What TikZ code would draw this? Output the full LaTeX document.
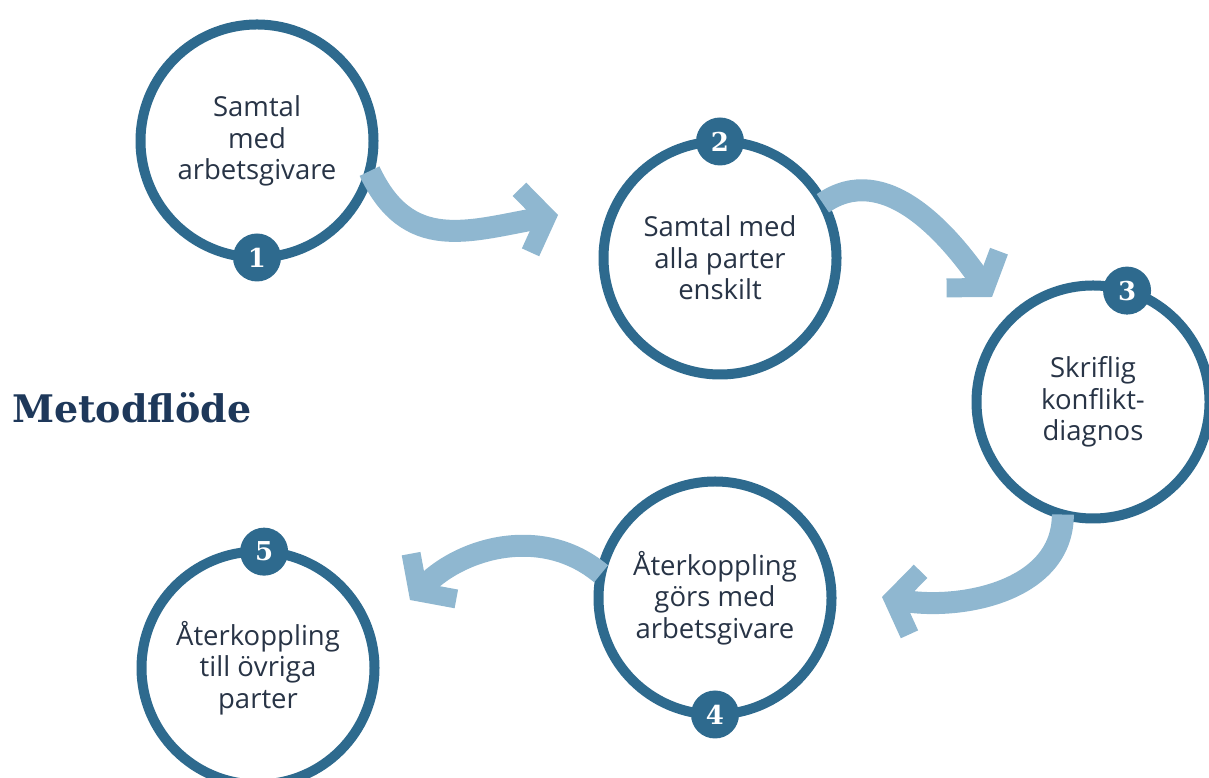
\documentclass[tikz,border=0pt]{standalone}
\usepackage{fontspec}
\setmainfont{Open Sans}
\newfontfamily\slabfont{DejaVu Serif}
\usetikzlibrary{arrows.meta,positioning}
\definecolor{ringblue}{RGB}{46,106,142}
\definecolor{flowblue}{RGB}{143,183,208}
\definecolor{textgrey}{RGB}{40,52,70}
\definecolor{titleblue}{RGB}{30,56,90}

\begin{document}
\begin{tikzpicture}[x=1pt,y=1pt,
  stepcircle/.style={draw=ringblue,circle,line width=10pt,minimum size=233pt,
    inner sep=0pt,outer sep=0pt,text=textgrey,align=center,
    font=\fontsize{27.5}{31.5}\selectfont},
  badge/.style={circle,fill=ringblue,minimum size=48pt,inner sep=0pt,
    text=white,font=\slabfont\bfseries\fontsize{26}{26}\selectfont},
  flow/.style={flowblue,line width=22pt,
    -{Straight Barb[length=22pt,width=64pt,line width=19pt]}}
]
\useasboundingbox (0,0) rectangle (1209,778);
\clip (0,0) rectangle (1209,778);

% the title
\node[anchor=west,inner sep=0pt,text=titleblue,
  font=\slabfont\bfseries\fontsize{38}{38}\selectfont] (title) at (12,370) {Metodflöde};

% the arrows
\coordinate (h1) at (558,563);
\coordinate (h2) at (992,481);
\coordinate (h3) at (882,181);
\coordinate (h4) at (410,178);

% the steps
\node[stepcircle] (c1) at (257,637) {Samtal\\med\\arbetsgivare};
\node[stepcircle] (c2) at (720,520) {Samtal med\\alla parter\\enskilt};
\node[stepcircle] (c3) at (1093,376) {Skriflig\\konflikt-\\diagnos};
\node[stepcircle] (c4) at (715,180) {Återkoppling\\görs med\\arbetsgivare};
\node[stepcircle] (c5) at (258,110) {Återkoppling\\till övriga\\parter};

% the numbers
\foreach \n/\a in {1/270,2/90,3/73,4/270,5/87}
  \node[badge] (b\n) at (c\n.\a) {\n};

% the flow
\draw[flow] (c1.-15) to[out=-65,in=190,looseness=1.2] (h1);
\draw[flow] (c2.28) to[out=35,in=125] (h2);
\draw[flow] (c3.255) to[out=-90,in=-10] (h3);
\draw[flow] (c4.168) to[out=140,in=45] (h4);
\end{tikzpicture}
\end{document}
